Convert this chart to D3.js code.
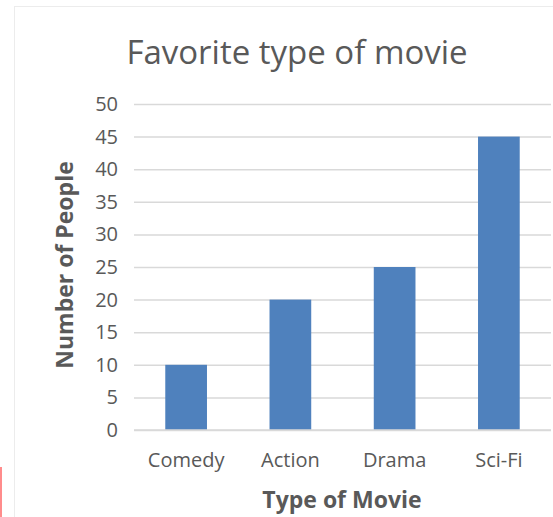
<!doctype html>
<html>
<head>
<meta charset="utf-8">
<script src="https://cdnjs.cloudflare.com/ajax/libs/d3/7.8.5/d3.min.js"></script>
<style>
  body { margin: 0; background: #fff; }
  svg { display: block; font-family: "Open Sans", sans-serif; }
  .grid line { stroke: #d9d9d9; stroke-width: 1.5; }
  .grid path { display: none; }
  .tick text { fill: #595959; }
  rect.bar { fill: #4f81bd; }
  text.title { fill: #595959; font-size: 33px; }
  text.axis-title { fill: #595959; font-size: 23px; font-weight: bold; }
</style>
</head>
<body>
<svg width="553" height="517"></svg>
<script>
var categories = ["Comedy", "Action", "Drama", "Sci-Fi"];
var people = [10, 20, 25, 45];
var yTicks = [0, 5, 10, 15, 20, 25, 30, 35, 40, 45, 50];

var svg = d3.select("svg");

// chart frame and the stray red mark on the left edge
svg.append("rect")
  .attr("x", 14.5).attr("y", 6.5)
  .attr("width", 560).attr("height", 530)
  .attr("fill", "#fff").attr("stroke", "#ececec");
svg.append("rect")
  .attr("x", 0).attr("y", 467)
  .attr("width", 2).attr("height", 50)
  .attr("fill", "#ff8c8c");

var x = d3.scaleBand()
  .domain(categories)
  .range([134, 551])
  .paddingInner(0.6)
  .paddingOuter(0.3);

var y = d3.scaleLinear()
  .domain([0, 50])
  .range([430, 104]);

svg.append("g")
  .attr("class", "grid")
  .attr("transform", "translate(134,0)")
  .call(d3.axisLeft(y).tickValues(yTicks).tickSize(-417).tickPadding(16))
  .attr("font-family", null)
  .call(function (g) { g.selectAll(".tick text").attr("font-size", 20); });

svg.selectAll("rect.bar")
  .data(people)
  .enter()
  .append("rect")
  .attr("class", "bar")
  .attr("x", function (d, i) { return x(categories[i]); })
  .attr("width", x.bandwidth())
  .attr("y", function (d) { return y(d); })
  .attr("height", function (d) { return y(0) - y(d); });

// baseline redrawn over the bars
svg.append("line")
  .attr("x1", 134).attr("x2", 551)
  .attr("y1", y(0)).attr("y2", y(0))
  .attr("stroke", "#d9d9d9").attr("stroke-width", 1.5);

svg.append("g")
  .attr("transform", "translate(0," + y(0) + ")")
  .call(d3.axisBottom(x).tickSize(0).tickPadding(23))
  .attr("font-family", null)
  .call(function (g) {
    g.select(".domain").remove();
    g.selectAll(".tick text").attr("font-size", 20);
  });

svg.append("text")
  .attr("class", "title")
  .attr("x", 297).attr("y", 64)
  .attr("text-anchor", "middle")
  .text("Favorite type of movie");

svg.append("text")
  .attr("class", "axis-title")
  .attr("x", 342).attr("y", 508)
  .attr("text-anchor", "middle")
  .text("Type of Movie");

svg.append("text")
  .attr("class", "axis-title")
  .attr("transform", "translate(73,265) rotate(-90)")
  .attr("text-anchor", "middle")
  .text("Number of People");
</script>
</body>
</html>
